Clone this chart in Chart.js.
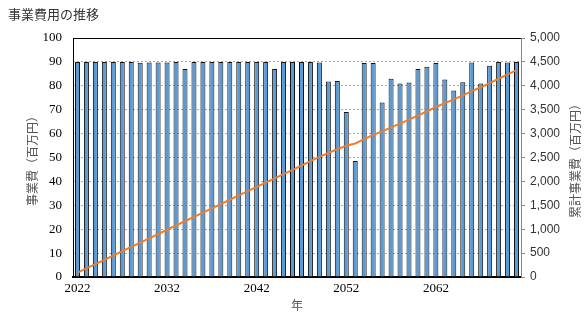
<!DOCTYPE html>
<html>
<head>
<meta charset="utf-8">
<title>事業費用の推移</title>
<script src="https://cdn.jsdelivr.net/npm/chart.js@4.4.1/dist/chart.umd.min.js"></script>
<style>
  html, body { margin: 0; padding: 0; background: #fff; }
  .wrap { position: relative; width: 587px; height: 316px; }
</style>
</head>
<body>
<div class="wrap"><canvas id="myChart" width="587" height="316"></canvas></div>
<script>
    // data
    var years = [];
    for (var y = 2022; y <= 2071; y++) years.push(String(y));

    var annualCost = [
        90, 90, 90, 90, 90, 90, 90, 89.6, 89.7, 89.7,
        89.7, 90, 87, 90, 90, 90, 90, 90, 90, 90,
        90, 90, 87, 90, 90, 90, 90, 89.7, 81.8, 82,
        69, 48.5, 89.5, 89.5, 73, 83, 81, 81.4, 87, 88,
        89.5, 82.6, 78, 81.5, 89.8, 81, 88.4, 90, 89.7, 90
    ];
    var cumulativeCost = [
        90, 180, 270, 360, 450, 540, 630, 720, 809, 899,
        989, 1079, 1166, 1256, 1346, 1436, 1526, 1616, 1706, 1796,
        1886, 1976, 2063, 2153, 2243, 2333, 2423, 2512, 2594, 2676,
        2745, 2794, 2883, 2973, 3046, 3129, 3210, 3291, 3378, 3466,
        3556, 3638, 3716, 3798, 3888, 3969, 4057, 4147, 4237, 4327
    ];

    var chartTitle = '事業費用の推移';
    var leftTitle = '事業費（百万円）';
    var rightTitle = '累計事業費（百万円）';
    var xTitle = '年';

    var jpFont = '"Noto Sans CJK JP", sans-serif';

    // titles and frame drawn by hand (right title reads bottom-to-top)
    var extras = {
        id: 'extras',
        afterDraw: function(chart) {
            var ctx = chart.ctx;
            var a = chart.chartArea;
            ctx.save();
            // top and left border
            ctx.strokeStyle = '#000';
            ctx.lineWidth = 1;
            ctx.beginPath();
            ctx.moveTo(a.left, a.top + 0.5);
            ctx.lineTo(a.right, a.top + 0.5);
            ctx.moveTo(a.left + 0.5, a.top);
            ctx.lineTo(a.left + 0.5, a.bottom);
            ctx.stroke();

            ctx.fillStyle = '#333';
            ctx.font = '13px ' + jpFont;
            ctx.textAlign = 'left';
            ctx.textBaseline = 'middle';
            ctx.fillText(chartTitle, 8, 14);

            ctx.fillStyle = '#555';
            ctx.font = '12px ' + jpFont;
            ctx.textAlign = 'center';
            ctx.fillText(xTitle, (a.left + a.right) / 2, 305);

            ctx.translate(32, 158);
            ctx.rotate(-Math.PI / 2);
            ctx.fillText(leftTitle, 0, 0);
            ctx.restore();

            ctx.save();
            ctx.fillStyle = '#555';
            ctx.font = '12px ' + jpFont;
            ctx.textAlign = 'center';
            ctx.textBaseline = 'middle';
            ctx.translate(575, 158);
            ctx.rotate(-Math.PI / 2);
            ctx.fillText(rightTitle, 0, 0);
            ctx.restore();
        }
    };

    var ctx = document.getElementById('myChart').getContext('2d');
    var myChart = new Chart(ctx, {
        type: 'bar',
        data: {
            labels: years,
            datasets: [
                {
                    type: 'line',
                    label: '累計事業費',
                    data: cumulativeCost,
                    yAxisID: 'y2',
                    borderColor: '#ED7D31',
                    borderWidth: 2,
                    pointRadius: 0,
                    tension: 0,
                    order: 0
                },
                {
                    type: 'bar',
                    label: '事業費',
                    data: annualCost,
                    yAxisID: 'y',
                    backgroundColor: '#5B9BD5',
                    borderColor: '#111',
                    borderWidth: 1,
                    categoryPercentage: 0.62,
                    barPercentage: 0.9,
                    order: 1
                }
            ]
        },
        options: {
            responsive: false,
            animation: false,
            layout: { padding: { top: 38, left: 0, right: 0, bottom: 0 } },
            plugins: {
                legend: { display: false },
                title: { display: false },
                tooltip: { enabled: false }
            },
            scales: {
                x: {
                    offset: true,
                    grid: { display: false, drawTicks: false },
                    border: { color: '#000', width: 2 },
                    ticks: {
                        autoSkip: false,
                        maxRotation: 0,
                        padding: 4,
                        color: '#000',
                        font: { family: '"Liberation Serif", serif', size: 13 },
                        callback: function(v, i) { return i % 10 === 0 ? this.getLabelForValue(v) : ''; }
                    },
                    afterFit: function(s) { s.height = 39; }
                },
                y: {
                    position: 'left',
                    min: 0,
                    max: 100,
                    grid: { color: '#aaa', drawTicks: false },
                    border: { display: false, dash: [2, 2] },
                    ticks: {
                        stepSize: 10,
                        padding: 11,
                        color: '#000',
                        font: { family: '"Liberation Serif", serif', size: 13 }
                    },
                    afterFit: function(s) { s.width = 73; }
                },
                y2: {
                    position: 'right',
                    min: 0,
                    max: 5000,
                    grid: { drawOnChartArea: false, color: '#888', tickLength: 4 },
                    border: { color: '#888', width: 1 },
                    ticks: {
                        stepSize: 500,
                        padding: 5,
                        color: '#333',
                        font: { family: '"Liberation Sans", Arial, sans-serif', size: 12 },
                        callback: function(v) { return v.toLocaleString('en-US'); }
                    },
                    afterFit: function(s) { s.width = 66; }
                }
            }
        },
        plugins: [extras]
    });
</script>
</body>
</html>
